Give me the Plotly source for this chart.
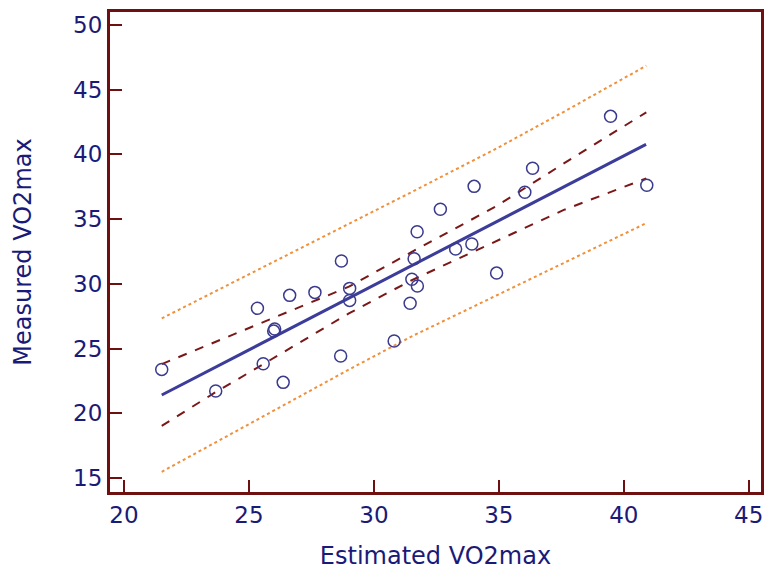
import plotly.graph_objects as go

# Observations
estimated = [21.51, 23.67, 25.34, 25.57, 25.99, 26.03, 26.37, 26.63, 27.64, 28.70,
             28.67, 29.03, 29.03, 30.81, 31.45, 31.52, 31.61, 31.73, 31.74, 32.66,
             33.27, 33.92, 34.01, 34.91, 36.04, 36.35, 39.47, 40.92]
measured = [23.39, 21.72, 28.11, 23.83, 26.35, 26.51, 22.39, 29.11, 29.34, 31.76,
            24.42, 29.65, 28.72, 25.58, 28.50, 30.36, 31.94, 34.03, 29.83, 35.76,
            32.69, 33.08, 37.53, 30.83, 37.07, 38.93, 42.94, 37.61]

# Regression line (read endpoints)
reg_x = [21.51, 40.89]
reg_y = [21.41, 40.78]

# Band x positions and band values
band_x = [21.51, 23.69, 25.0, 29.0, 31.5, 34.9, 37.6, 40.9]
ci_upper = [23.80, 25.55, 26.61, 29.78, 32.45, 36.00, 39.30, 43.25]
ci_lower = [19.03, 21.66, 23.14, 27.72, 30.27, 33.33, 35.71, 38.15]
pi_upper = [27.33, 29.45, 30.73, 34.64, 37.08, 40.45, 43.29, 46.85]
pi_lower = [15.48, 17.80, 19.16, 23.38, 25.93, 29.10, 31.62, 34.69]

x_ticks = [20, 25, 30, 35, 40, 45]
y_ticks = [15, 20, 25, 30, 35, 40, 45, 50]

frame_col = "#6e1010"
text_col = "#1a1a78"
font_family = "DejaVu Sans, Arial"

fig = go.Figure()
fig.add_trace(go.Scatter(x=band_x, y=pi_upper, mode="lines",
                         line=dict(color="#f0903a", width=2, dash="dot"), hoverinfo="skip"))
fig.add_trace(go.Scatter(x=band_x, y=pi_lower, mode="lines",
                         line=dict(color="#f0903a", width=2, dash="dot"), hoverinfo="skip"))
fig.add_trace(go.Scatter(x=band_x, y=ci_upper, mode="lines",
                         line=dict(color="#7a1818", width=2, dash="dash"), hoverinfo="skip"))
fig.add_trace(go.Scatter(x=band_x, y=ci_lower, mode="lines",
                         line=dict(color="#7a1818", width=2, dash="dash"), hoverinfo="skip"))
fig.add_trace(go.Scatter(x=reg_x, y=reg_y, mode="lines",
                         line=dict(color="#3c3c9a", width=3), hoverinfo="skip"))
fig.add_trace(go.Scatter(x=estimated, y=measured, mode="markers",
                         marker=dict(symbol="circle-open", size=12,
                                     color="#3a3a8e", line=dict(width=1.5, color="#3a3a8e"))))

axis_common = dict(showgrid=False, zeroline=False, showline=True, mirror=True,
                   linecolor=frame_col, linewidth=3, ticks="inside", ticklen=12,
                   tickwidth=2, tickcolor=frame_col,
                   tickfont=dict(family=font_family, size=23, color=text_col),
                   title_font=dict(family=font_family, size=24, color=text_col))

fig.update_layout(
    width=772, height=576,
    margin=dict(l=110, r=8, t=12, b=84),
    paper_bgcolor="white", plot_bgcolor="white",
    showlegend=False,
    xaxis=dict(range=[19.44, 45.49], tickvals=x_ticks, title=dict(text="Estimated VO2max", standoff=21),
               **axis_common),
    yaxis=dict(range=[13.92, 51.0], tickvals=y_ticks, title=dict(text="Measured VO2max", standoff=35),
               **axis_common),
)

fig.write_html("out.html")
